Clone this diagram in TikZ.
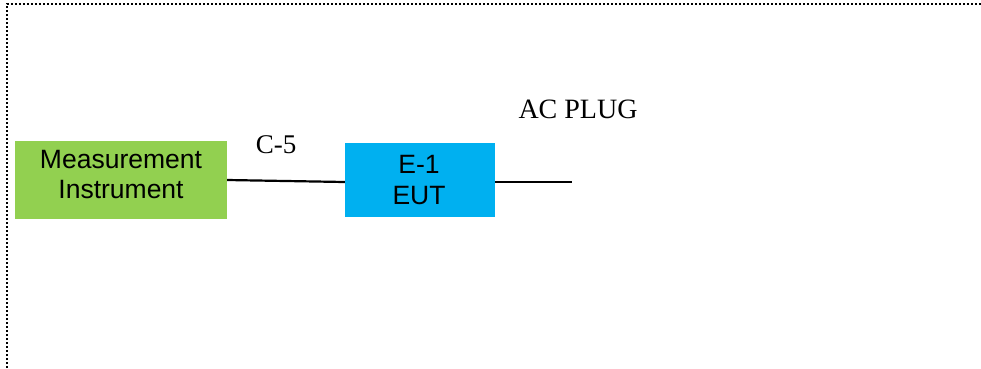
\documentclass[tikz,border=0pt]{standalone}
\usepackage{fontspec}
\setmainfont{Liberation Serif}
\newfontfamily\arialfont{Liberation Sans}
\usetikzlibrary{calc}
\definecolor{boxgreen}{HTML}{92D050}
\definecolor{boxblue}{HTML}{00B0F0}
\tikzset{
  boxnode/.style={draw=none, inner sep=0pt},
  boxtext/.style={inner sep=0pt, anchor=base, font=\arialfont\fontsize{26.5}{30}\selectfont, text=black},
  lbl/.style={inner sep=0pt, anchor=base, font=\fontsize{27}{30}\selectfont},
  wire/.style={line width=2.2pt, black},
  frame/.style={line width=2.5pt, dash pattern=on 2pt off 2pt, black}
}
\begin{document}
\begin{tikzpicture}[x=1pt,y=-1pt]
\useasboundingbox (0,0) rectangle (981,368);
\draw[frame] (7,368) -- (7,4) -- (981,4);
\node[boxnode, fill=boxgreen, minimum width=212pt, minimum height=78pt] (meas) at (121,180) {};
\node[boxtext] (measA) at (121,168) {Measurement};
\node[boxtext] (measB) at (121,198) {Instrument};
\node[boxnode, fill=boxblue, minimum width=150pt, minimum height=74pt] (eut) at (420,180) {};
\node[boxtext] (eutA) at (419,173) {E-1};
\node[boxtext] (eutB) at (419,204) {EUT};
\node[lbl] (c5) at (276,153) {C-5};
\node[lbl, font=\fontsize{28}{30}\selectfont] (acplug) at (578,118) {AC PLUG};
\coordinate (plug) at (572,182);
\draw[wire] (meas.east) -- ($(eut.west)+(0,2)$);
\draw[wire] ($(eut.east)+(0,2)$) -- (plug);
\end{tikzpicture}
\end{document}
